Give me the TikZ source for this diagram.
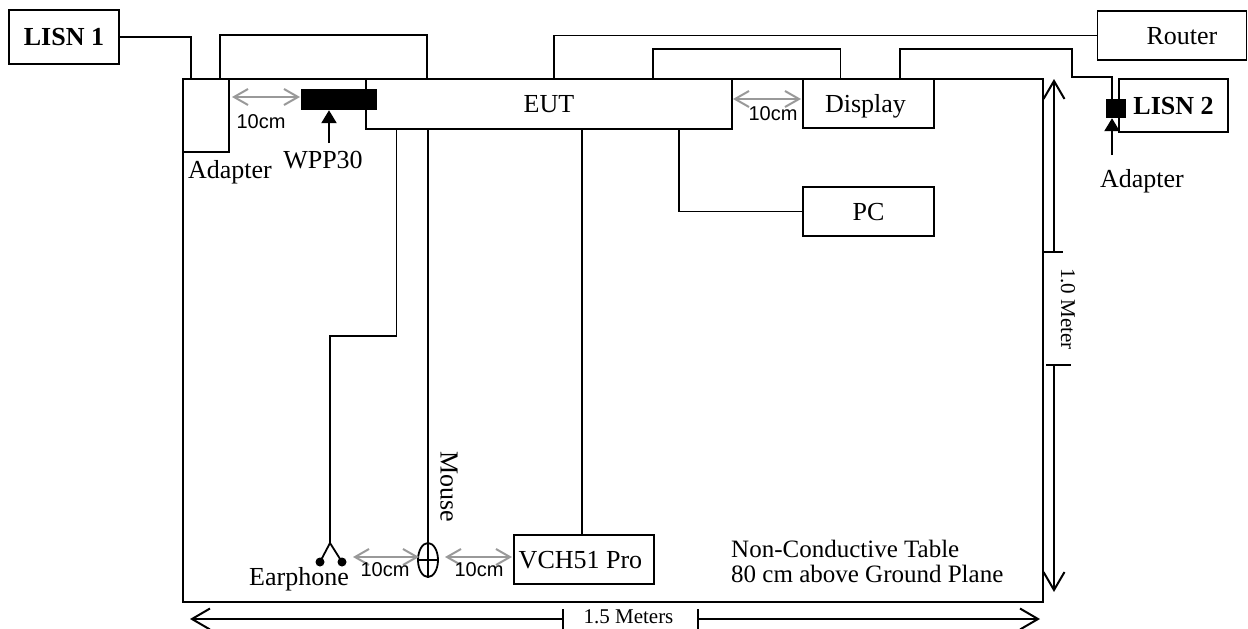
\documentclass[tikz,border=0pt]{standalone}
\usepackage{fontspec}
\setmainfont{Liberation Serif}
\setsansfont{Liberation Sans}
\usetikzlibrary{arrows.meta,shapes.geometric}
\tikzset{
    unitbox/.style={draw, rectangle, line width=1.8pt, inner sep=0pt, text height=23.5pt, text depth=6pt, font=\fontsize{26}{30}\selectfont},
    tag/.style={inner sep=0pt, font=\fontsize{26}{30}\selectfont},
    smalltag/.style={inner sep=0pt, font=\fontsize{21}{25}\selectfont},
    gaptag/.style={inner sep=0pt, font=\sffamily\fontsize{20}{24}\selectfont},
    wire/.style={line width=1.8pt},
    gap/.style={{Straight Barb[length=14pt,width=16pt,line width=2pt]}-{Straight Barb[length=14pt,width=16pt,line width=2pt]}, line width=2.2pt, color=black!40},
    span/.style={-{Straight Barb[length=18pt,width=21pt,line width=2pt]}, line width=1.8pt},
    pointer/.style={-{Stealth[length=13pt,width=15pt,inset=0pt]}, line width=2.2pt}
}
\begin{document}
\begin{tikzpicture}[x=1pt,y=-1pt]
        \useasboundingbox (0,0) rectangle (1248,629);

        \node (table) [draw, rectangle, line width=1.8pt, minimum width=860pt, minimum height=523pt] at (613,340.5) {};
        \node (lisn1) [unitbox, minimum width=110pt, minimum height=54pt, font=\bfseries\fontsize{26}{30}\selectfont] at (64,37) {LISN 1};
        \node (adapter) [draw, rectangle, line width=1.8pt, inner sep=0pt, minimum width=46pt, minimum height=73pt] at (206,115.5) {};
        \node (eut) [unitbox, minimum width=366pt, minimum height=50pt] at (549,104) {EUT};
        \node (wpp) [fill=black, inner sep=0pt, minimum width=76pt, minimum height=21pt] at (339,99.5) {};
        \node (display) [unitbox, minimum width=131pt, minimum height=49pt] at (868.5,103.5) {\hspace*{-6pt}Display};
        \node (pc) [unitbox, minimum width=131pt, minimum height=49pt] at (868.5,211.5) {PC};
        \node (router) [unitbox, minimum width=149pt, minimum height=49pt] at (1172,35.5) {\hspace*{20pt}Router};
        \node (lisn2) [unitbox, minimum width=109pt, minimum height=53pt, font=\bfseries\fontsize{26}{30}\selectfont] at (1173.5,105.5) {LISN 2};
        \node (plug) [fill=black, inner sep=0pt, minimum width=20pt, minimum height=19pt] at (1115.5,108.5) {};
        \node (vch) [unitbox, minimum width=140pt, minimum height=49pt] at (584,559.5) {\hspace*{-7pt}VCH51 Pro};
        \node (mouse) [draw, ellipse, line width=1.8pt, inner sep=0pt, minimum width=20pt, minimum height=34pt] at (428,560) {};
        \node (ear1) [fill=black, circle, inner sep=0pt, minimum size=9pt] at (320,562) {};
        \node (ear2) [fill=black, circle, inner sep=0pt, minimum size=9pt] at (342,562) {};

        \coordinate (adapterin) at (191,79);
        \coordinate (adapterout) at (220,79);
        \coordinate (eutpower) at (427,79);
        \coordinate (eutrouter) at (554,79);
        \coordinate (eutdisplay) at (653,79);
        \coordinate (displayin) at (840.5,79);
        \coordinate (displaypower) at (900,79);
        \coordinate (eutear) at (396.5,129);
        \coordinate (eutmouse) at (428,129);
        \coordinate (eutvch) at (582,129);
        \coordinate (eutpc) at (679,129);
        \coordinate (earjoin) at (330,543);
        \coordinate (wpparrow) at (329,143);
        \coordinate (plugarrow) at (1112,155);

        \draw[wire] (lisn1.east) -| (adapterin);
        \draw[wire] (adapterout) -- ++(0,-44) -| (eutpower);
        \draw[wire] (eutrouter) |- (router.west);
        \draw[wire] (eutdisplay) -- ++(0,-30) -| (displayin);
        \draw[wire] (displaypower) -- ++(0,-30) -- ++(172,0) -- ++(0,28) -- ++(40,0) -- (plug.north -| plugarrow);
        \draw[wire] (eutear) -- ++(0,207) -| (earjoin);
        \draw[wire] (eutmouse) -- (mouse.north);
        \draw[wire] (eutvch) -- (eutvch |- vch.north);
        \draw[wire] (eutpc) |- (pc.west);
        \draw[wire] (earjoin) -- (ear1.center);
        \draw[wire] (earjoin) -- (ear2.center);
        \draw[wire] (mouse.west) -- (mouse.east);
        \draw[wire] (mouse.north) -- (mouse.south);

        \draw[pointer] (wpparrow) -- (wpparrow |- wpp.south);
        \draw[pointer] (plugarrow) -- (plugarrow |- plug.south);

        \coordinate (gapa) at (232,97);
        \coordinate (gapb) at (300,97);
        \coordinate (gapc) at (733,99);
        \coordinate (gapd) at (801,99);
        \coordinate (gape) at (353,557);
        \coordinate (gapf) at (419,557);
        \coordinate (gapg) at (445,557);
        \coordinate (gaph) at (512,557);
        \draw[gap] (gapa) -- (gapb);
        \draw[gap] (gapc) -- (gapd);
        \draw[gap] (gape) -- (gapf);
        \draw[gap] (gapg) -- (gaph);

        \node (gaplabela) [gaptag] at (261,122) {10cm};
        \node (gaplabelb) [gaptag] at (773,114) {10cm};
        \node (gaplabelc) [gaptag] at (385,570) {10cm};
        \node (gaplabeld) [gaptag] at (479,570) {10cm};

        \node (adapterlabel) [tag] at (230,172) {Adapter};
        \node (wpplabel) [tag] at (323,160) {WPP30};
        \node (plugadapter) [tag] at (1142,181) {Adapter};
        \node (earlabel) [tag] at (299,579) {Earphone};
        \node (mouselabel) [tag, rotate=-90] at (449,487) {Mouse};
        \node (tablelabel) [tag, anchor=west, align=left, font=\fontsize{25}{25}\selectfont] at (731,561) {Non-Conductive Table\\80 cm above Ground Plane};

        % overall table dimensions
        \coordinate (vtop) at (1054,79);
        \coordinate (vbot) at (1054,592);
        \coordinate (vticka) at (1054,252);
        \coordinate (vtickb) at (1054,365);
        \coordinate (hleft) at (190,619);
        \coordinate (hright) at (1040,619);
        \coordinate (hticka) at (563,619);
        \coordinate (htickb) at (698,619);
        \draw[span] (vticka) -- (vtop);
        \draw[span] (vtickb) -- (vbot);
        \draw[span] (hticka) -- (hleft);
        \draw[span] (htickb) -- (hright);
        \draw[wire] (vticka) ++(-12,0) -- ++(21,0);
        \draw[wire] (vtickb) ++(-8,0) -- ++(25,0);
        \draw[wire] (hticka) ++(0,-10) -- ++(0,20);
        \draw[wire] (htickb) ++(0,-10) -- ++(0,20);
        \node (vspan) [smalltag, rotate=-90] at (1068,309) {1.0 Meter};
        \node (hspan) [smalltag] at (628.5,617) {1.5 Meters};
\end{tikzpicture}
\end{document}
